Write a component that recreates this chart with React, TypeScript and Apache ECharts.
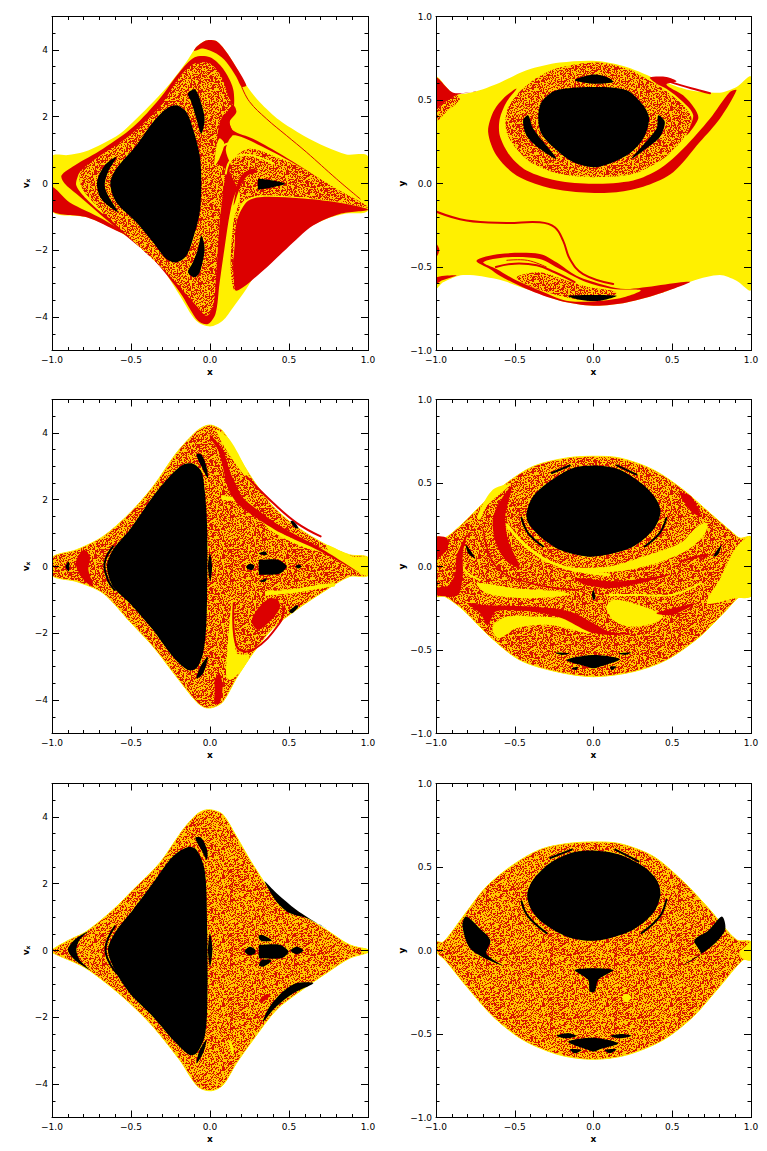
import React, { useEffect, useRef } from "react";
import * as echarts from "echarts";

type P = number[][];

const xTicks = [-1, -0.5, 0, 0.5, 1];
const vTicks = [-4, -2, 0, 2, 4];
const yTicks = [-1, -0.5, 0, 0.5, 1];

/* ---------- row 1, left ---------- */
const a1Env: P = [[-1,.81],[-.9,.85],[-.8,.94],[-.68,1.19],[-.57,1.49],[-.466,1.94],[-.36,2.44],[-.255,2.99],[-.15,3.64],[-.087,4.09],[-.034,4.27],[0,4.3],[.04,4.27],[.08,4.09],[.146,3.64],[.23,2.94],[.314,2.44],[.44,1.89],[.59,1.44],[.736,1.09],[.863,.87],[1,.81],[1,-.8],[.863,-.9],[.736,-1.06],[.59,-1.41],[.44,-1.96],[.31,-2.56],[.23,-3.16],[.146,-3.71],[.08,-4.11],[0,-4.28],[-.087,-4.11],[-.19,-3.36],[-.3,-2.56],[-.42,-1.96],[-.57,-1.46],[-.78,-1.01],[-1,-.82]];
const a1LowerLeft: P = [[-1,-.11],[-.89,-.56],[-.68,-1.06],[-.51,-1.56],[-.57,-1.46],[-.78,-1.01],[-1,-.82]];
const a1BigRed: P = [[.167,-1.16],[.23,-.56],[.314,-.41],[.567,-.44],[.8,-.56],[1,-.78],[.821,-.91],[.652,-1.26],[.483,-1.96],[.335,-2.61],[.167,-3.21],[.141,-2.76],[.156,-1.86]];
const a1Halo: P = [[-.94,.24],[-.857,.54],[-.677,1.04],[-.487,1.69],[-.319,2.54],[-.192,3.34],[-.097,3.78],[0,3.78],[.082,3.44],[.146,2.84],[.15,2.2],[.124,1.84],[.146,1.49],[.12,1.3],[.1,1],[.13,.6],[.19,.3],[.24,.1],[.17,-.2],[.13,-.8],[.09,-2],[.06,-3],[.035,-3.9],[-.013,-4.21],[-.076,-4.11],[-.19,-3.26],[-.36,-2.26],[-.508,-1.66],[-.698,-.91],[-.846,-.31],[-.92,0]];
const a1YellowLeft: P = [[-.835,.24],[-.846,-.06],[-.783,-.46],[-.677,-.91],[-.677,-.81],[-.793,-.26],[-.825,.09],[-.814,.39]];
const a1Crescent: P = [[-.087,4.09],[-.034,4.27],[0,4.3],[.04,4.27],[.08,4.09],[.146,3.64],[.23,2.94],[.2,2.9],[.167,3.19],[.103,3.64],[.04,3.89],[-.044,4.04],[-.1,3.97]];
const a1Speckle1: P = [[-.814,.39],[-.677,.89],[-.508,1.44],[-.319,2.29],[-.192,3.19],[-.097,3.59],[0,3.59],[.072,3.19],[.114,2.64],[.146,2.24],[.082,2.04],[.05,1.54],[.04,1.04],[.03,.64],[.093,.44],[.082,-.26],[.061,-1.16],[.04,-2.66],[.019,-3.71],[-.023,-3.96],[-.086,-3.66],[-.255,-2.76],[-.466,-1.81],[-.677,-.86],[-.793,-.26],[-.825,.09]];
const a1Neck: P = [[.146,2.34],[.167,2.14],[.124,1.84],[.146,1.59],[.272,1.34],[.462,.84],[.694,.14],[.905,-.56],[.589,.44],[.357,1.04],[.167,1.44],[.082,1.34],[.04,.94],[.061,1.54],[.082,1.94]];
const a1Speckle2: P = [[.124,.34],[.146,.74],[.25,1.04],[.4,.84],[.589,.44],[.8,-.16],[1,-.71],[.8,-.54],[.567,-.41],[.314,-.36],[.209,-.56],[.167,-1.16],[.146,-2.46],[.156,-3.21],[.14,-3],[.13,-2.4],[.15,-1.1],[.19,-.35],[.15,.1]];
const a1Arc: P = [[.177,.04],[.21,.3],[.27,.44],[.3,.36],[.24,.24],[.2,0],[.15,-.66]];
const a1YellowWedge: P = [[.04,1.1],[.06,1.35],[.09,1.2],[.06,.75],[.03,.55]];
const a1YellowLine1: P = [[.05,.8],[.09,1.15],[.18,1.2],[.3,1.05],[.45,.75]];
const a1YellowLine2: P = [[.1,.3],[.14,.75],[.25,.85],[.4,.6]];
const a1ThinRed: P = [[.2,2.9],[.25,2.45],[.357,1.94],[.483,1.44],[.61,.94],[.8,.14],[.95,-.46]];
const a1Main: P = [[-.631,0],[-.593,.44],[-.466,1.14],[-.36,1.84],[-.276,2.24],[-.213,2.34],[-.15,2.14],[-.108,1.64],[-.065,.84],[-.055,.04],[-.065,-.86],[-.108,-1.66],[-.15,-2.16],[-.213,-2.36],[-.276,-2.26],[-.36,-1.76],[-.466,-1.16],[-.593,-.56]];
const a1IslandUp: P = [[-.139,2.69],[-.097,2.82],[-.065,2.54],[-.034,1.94],[-.055,1.49],[-.086,1.94],[-.118,2.44]];
const a1IslandLow: P = [[-.139,-2.66],[-.097,-2.81],[-.065,-2.66],[-.034,-1.96],[-.055,-1.56],[-.076,-1.96],[-.108,-2.36]];
const a1IslandLeft: P = [[-.593,.79],[-.667,.54],[-.715,.04],[-.688,-.46],[-.582,-.86],[-.639,-.41],[-.667,-.06],[-.646,.34]];
const a1IslandRight: P = [[.304,.14],[.31,.14],[.399,.09],[.477,-.01],[.399,-.11],[.314,-.18],[.304,-.18]];

/* ---------- row 1, right ---------- */
const b1Env: P = [[-1,.634],[-.89,.54],[-.764,.548],[-.595,.604],[-.425,.678],[-.214,.724],[.019,.734],[.21,.698],[.421,.618],[.612,.558],[.802,.544],[.908,.578],[1,.638],[1,-.636],[.908,-.582],[.802,-.548],[.633,-.582],[.442,-.652],[.21,-.712],[0,-.732],[-.214,-.702],[-.425,-.632],[-.616,-.572],[-.828,-.548],[-.955,-.592],[-1,-.628]];
const b1TopLeftRed: P = [[-1,.634],[-.89,.544],[-.743,.552],[-.87,.528],[-1,.438]];
const b1TopLeftSpeck: P = [[-1,.438],[-.87,.528],[-.85,.5],[-.933,.43],[-1,.37]];
const b1Band: P = [[-.669,.308],[-.637,.428],[-.574,.508],[-.489,.568],[-.552,.488],[-.595,.388],[-.595,.288],[-.531,.168],[-.425,.078],[-.235,.018],[-.002,-.002],[.252,.018],[.421,.088],[.569,.208],[.739,.388],[.866,.548],[.908,.558],[.802,.388],[.675,.248],[.506,.068],[.337,-.012],[.146,-.052],[-.087,-.052],[-.298,-.022],[-.489,.048],[-.616,.168]];
const b1RightArc: P = [[.358,.634],[.463,.638],[.527,.612],[.463,.592],[.569,.528],[.643,.448],[.665,.388],[.59,.288],[.633,.408],[.569,.488],[.463,.568],[.4,.598]];
const b1Streak: P = [[.48,.61],[.62,.57],[.74,.54]];
const b1Ring: P = [[-.552,.308],[-.552,.428],[-.489,.528],[-.383,.618],[-.235,.688],[.019,.724],[.21,.688],[.315,.638],[.442,.568],[.569,.468],[.622,.388],[.569,.268],[.442,.148],[.252,.058],[-.002,.038],[-.214,.058],[-.383,.118],[-.489,.208]];
const b1Main: P = [[-.351,.388],[-.33,.488],[-.235,.558],[.019,.578],[.21,.558],[.315,.468],[.353,.388],[.315,.268],[.21,.168],[.019,.098],[-.129,.128],[-.256,.218],[-.33,.298]];
const b1IslandTop: P = [[-.119,.618],[-.002,.652],[.083,.638],[.125,.608],[-.002,.598]];
const b1IslandLeft: P = [[-.447,.378],[-.415,.408],[-.383,.328],[-.235,.148],[-.341,.208],[-.425,.288]];
const b1IslandRight: P = [[.453,.368],[.411,.408],[.4,.328],[.241,.148],[.347,.218],[.421,.278]];
const b1IslandLow: P = [[-.161,-.672],[.146,-.672],[.04,-.702],[-.087,-.696]];
const b1LongLine: P = [[-1,-.168],[-.806,-.222],[-.552,-.236],[-.341,-.232],[-.246,-.262],[-.193,-.342],[-.15,-.452],[-.066,-.542],[.125,-.602]];
const b1SwirlRed: P = [[-.743,-.462],[-.595,-.422],[-.341,-.422],[-.235,-.472],[-.108,-.552],[.083,-.612],[.21,-.632],[.612,-.588],[.442,-.652],[.21,-.712],[0,-.732],[-.214,-.702],[-.425,-.632],[-.595,-.552],[-.658,-.512]];
const b1SwirlYellow: P = [[-.7,-.472],[-.552,-.442],[-.341,-.452],[-.214,-.512],[-.044,-.592],[.125,-.632],[.3,-.64],[.15,-.69],[-.15,-.705],[-.341,-.64],[-.51,-.57],[-.616,-.512]];
const b1SwirlSpeck: P = [[-.489,-.562],[-.341,-.532],[-.171,-.582],[-.023,-.622],[.146,-.652],[.04,-.702],[-.171,-.682],[-.383,-.622]];
const b1SwirlLine: P = [[-.62,-.5],[-.5,-.48],[-.36,-.49],[-.25,-.53],[-.12,-.59]];
const b1SwirlLine2: P = [[-.55,-.46],[-.42,-.46],[-.3,-.5]];
const b1EdgeRed: P = [[-1,-.36],[-.98,-.39],[-.985,-.42],[-1,-.44]];
const b1EdgeLow: P = [[-1,-.562],[-.87,-.55],[-.96,-.58],[-1,-.6]];

/* ---------- row 2, left ---------- */
const a2Env: P = [[-1,.27],[-.846,.5],[-.677,.9],[-.508,1.6],[-.36,2.4],[-.213,3.4],[-.086,4.05],[-.023,4.22],[.019,4.22],[.082,4.05],[.167,3.4],[.272,2.6],[.399,1.8],[.546,1.2],[.736,.65],[.884,.35],[1,.27],[1,-.27],[.884,-.3],[.736,-.7],[.546,-1.3],[.399,-1.85],[.272,-2.6],[.167,-3.35],[.082,-4.05],[.019,-4.22],[-.034,-4.22],[-.086,-4.05],[-.213,-3.3],[-.36,-2.4],[-.508,-1.65],[-.677,-.8],[-.846,-.45],[-1,-.27]];
const a2YellowTop: P = [[.04,4.1],[.124,3.8],[.23,2.9],[.251,2.6],[.188,2.9],[.082,3.65]];
const a2YellowCurve: P = [[.082,2.05],[.23,1.9],[.4,1.1],[.59,.65],[.76,.4],[1,-.2]];
const a2YellowTip: P = [[.736,.65],[.905,.3],[1,.27],[1,-.27],[.905,-.1],[.76,.4]];
const a2RedBand: P = [[0,3.95],[.08,3.5],[.13,2.8],[.16,2.5],[.2,2.1],[.3,1.7],[.45,1.2],[.7,.55],[.95,-.2],[.7,.45],[.45,1],[.28,1.5],[.17,1.9],[.11,2.4],[.08,3],[.05,3.5],[0,3.85]];
const a2RedLine: P = [[.23,2.7],[.4,1.9],[.55,1.3],[.7,.9]];
const a2Main: P = [[-.652,0],[-.614,.5],[-.508,1.1],[-.36,2.1],[-.255,2.7],[-.171,3.05],[-.108,3.08],[-.055,2.85],[-.034,2.3],[-.019,1.3],[-.017,0],[-.023,-1.7],[-.044,-2.6],[-.086,-3.05],[-.139,-3.1],[-.234,-2.7],[-.36,-1.9],[-.508,-1.1],[-.614,-.6]];
const a2CrescentTop: P = [[-.086,3.35],[-.055,3.35],[-.023,3],[-.013,2.65],[-.044,2.9]];
const a2CrescentLow: P = [[-.086,-3.35],[-.044,-3.2],[-.013,-2.7],[-.055,-2.95]];
const a2CrescentLeft: P = [[-.614,.6],[-.667,.1],[-.646,-.4],[-.604,-.7]];
const a2Sliver: P = [[0,.4],[.013,0],[.002,-.45],[-.013,0]];
const a2FarLeft: P = [[-.894,.15],[-.914,0],[-.894,-.15],[-.89,0]];
const a2RightMain: P = [[.31,.2],[.32,.2],[.43,.2],[.483,.03],[.483,-.03],[.44,-.22],[.32,-.25],[.31,-.25]];
const a2Dot1: P = [[.23,0],[.255,.08],[.28,.02],[.27,-.1],[.24,-.08]];
const a2Dot2: P = [[.54,0],[.56,.06],[.58,0],[.56,-.06]];
const a2Dot3: P = [[.31,.4],[.35,.45],[.36,.35],[.33,.35]];
const a2Dot4: P = [[.31,-.45],[.36,-.35],[.35,-.45]];
const a2Dot5: P = [[.51,1.35],[.53,1.35],[.56,1.15],[.54,1.15]];
const a2Dot6: P = [[.5,-1.35],[.55,-1.15],[.56,-1.2],[.52,-1.4]];
const a2RedBlob: P = [[.272,-1.5],[.314,-1.2],[.378,-.95],[.43,-1],[.441,-1.25],[.378,-1.65],[.304,-1.9],[.266,-1.7]];
const a2YellowLow: P = [[.103,-3.3],[.11,-2.5],[.14,-1],[.155,-1.8],[.17,-2.6],[.25,-2.65],[.2,-3.1],[.13,-3.4]];
const a2YellowStripe: P = [[.36,-.8],[.5,-.75],[.7,-.6],[.78,-.55]];
const a2RedLeft: P = [[-.85,.1],[-.8,.5],[-.76,.3],[-.77,-.1],[-.74,-.6],[-.8,-.4]];
const a2RedColumn: P = [[.03,-3.4],[.06,-3.2],[.08,-3.6],[.06,-4.1],[.03,-4.1],[.03,-3.7]];
const a2RedArc: P = [[.15,-1.1],[.17,-2.4],[.27,-2.5],[.44,-1.7],[.47,-1.2]];

/* ---------- row 2, right ---------- */
const b2Env: P = [[-1,.175],[-.944,.17],[-.828,.26],[-.7,.38],[-.552,.5],[-.383,.6],[-.171,.65],[0,.66],[.167,.65],[.379,.58],[.569,.46],[.739,.32],[.887,.2],[.93,.17],[1,.175],[1,-.175],[.93,-.18],[.845,-.26],[.675,-.42],[.463,-.56],[.252,-.63],[0,-.66],[-.235,-.63],[-.468,-.56],[-.658,-.42],[-.828,-.26],[-.944,-.18],[-1,-.175]];
const b2YellowRight: P = [[1,.175],[1,-.175],[.9,-.19],[.72,-.22],[.8,-.08],[.91,.12]];
const b2YellowBlob: P = [[.083,-.24],[.125,-.2],[.252,-.22],[.4,-.27],[.442,-.3],[.379,-.34],[.23,-.36],[.125,-.32]];
const b2YellowCres: P = [[.66,.24],[.72,.26],[.71,.2],[.6,.1],[.4,.02],[.15,-.03],[-.1,-.03],[-.2,-.01],[.1,0],[.35,.07],[.55,.14]];
const b2YellowLow: P = [[-.635,-.35],[-.55,-.3],[-.38,-.3],[-.13,-.32],[-.02,-.4],[-.28,-.35],[-.49,-.37],[-.6,-.43],[-.64,-.39]];
const b2YellowMid: P = [[-.74,-.1],[-.5,-.13],[-.2,-.15],[-.15,-.17],[-.45,-.19],[-.68,-.16]];
const b2YellowUp: P = [[-.74,.3],[-.64,.46],[-.53,.49],[-.68,.36],[-.72,.28]];
const b2YellowLine: P = [[-.55,.25],[-.4,.1],[-.2,0],[.1,-.05]];
const b2YellowArc2: P = [[-.85,.12],[-.82,-.02],[-.72,-.08]];
const b2YellowArc3: P = [[.1,-.17],[.3,-.17],[.5,-.17],[.68,-.1]];
const b2RedArc1: P = [[-.7,.22],[-.62,0],[-.4,-.1],[-.1,-.14]];
const b2RedLeftBig: P = [[-.64,.28],[-.6,.38],[-.52,.48],[-.56,.3],[-.54,.15],[-.47,0],[-.55,.03],[-.62,.14]];
const b2RedLeft: P = [[-.95,-.17],[-.88,-.05],[-.87,.06],[-.8,.2],[-.83,.08],[-.83,-.05],[-.86,-.17]];
const b2RedEdgeUp: P = [[-1,.175],[-.93,.17],[-.93,.1],[-1,.05]];
const b2RedEdgeLow: P = [[-1,-.13],[-.87,-.12],[-.87,-.17],[-1,-.17]];
const b2RedBand: P = [[-.8,-.22],[-.7,-.23],[-.4,-.24],[-.15,-.27],[0,-.34],[.1,-.39],[.25,-.4],[.1,-.41],[-.03,-.39],[-.2,-.31],[-.4,-.27],[-.62,-.27],[-.67,-.35],[-.72,-.28]];
const b2RedUpRight: P = [[.55,.44],[.62,.42],[.68,.3],[.62,.33],[.58,.38]];
const b2RedMid: P = [[-.12,-.07],[.15,-.09],[.48,-.05],[.3,-.1],[.1,-.13],[-.05,-.11]];
const b2RedLine: P = [[.55,.03],[.72,.07],[.68,.04]];
const b2RedLowRight: P = [[.4,-.28],[.55,-.24],[.65,-.22],[.5,-.29]];
const b2Main: P = [[-.425,.32],[-.383,.42],[-.277,.51],[-.129,.59],[.019,.605],[.167,.58],[.315,.49],[.4,.4],[.425,.32],[.379,.22],[.252,.12],[.083,.07],[-.044,.06],[-.214,.1],[-.339,.18],[-.414,.26]];
const b2ArcLeft: P = [[-.457,.29],[-.415,.2],[-.32,.12]];
const b2ArcRight: P = [[.463,.29],[.42,.2],[.325,.12]];
const b2ArcTopL: P = [[-.265,.56],[-.15,.605]];
const b2ArcTopR: P = [[.148,.605],[.273,.55]];
const b2IsleLeft: P = [[-.81,.13],[-.751,.05],[-.796,.08]];
const b2IsleRight: P = [[.813,.13],[.76,.06],[.79,.07]];
const b2IsleMid: P = [[-.01,-.17],[0,-.14],[.012,-.19],[0,-.2]];
const b2LowMain: P = [[-.171,-.56],[0,-.53],[.167,-.555],[.04,-.6],[0,-.61],[-.04,-.6]];
const b2Low1: P = [[-.245,-.515],[-.15,-.52],[-.2,-.53]];
const b2Low2: P = [[.157,-.52],[.24,-.515],[.2,-.53]];
const b2Low3: P = [[-.14,-.61],[-.1,-.6],[-.11,-.62]];
const b2Low4: P = [[.105,-.6],[.145,-.6],[.115,-.62]];

/* ---------- row 3, left ---------- */
const a3Env: P = [[-1,.02],[-.89,.32],[-.783,.57],[-.614,1.22],[-.487,1.82],[-.319,2.62],[-.171,3.62],[-.086,4.07],[-.034,4.2],[.019,4.2],[.082,4.07],[.167,3.42],[.272,2.57],[.399,1.72],[.568,1.12],[.736,.62],[.884,.17],[1,.02],[1,-.06],[.884,-.23],[.736,-.68],[.568,-1.23],[.42,-1.78],[.272,-2.68],[.167,-3.38],[.082,-4.03],[.008,-4.2],[-.076,-4.08],[-.192,-3.28],[-.361,-2.28],[-.508,-1.58],[-.656,-.98],[-.804,-.48],[-1,-.06]];
const a3Main: P = [[-.646,.02],[-.603,.52],[-.487,1.22],[-.361,2.02],[-.234,2.82],[-.139,3.1],[-.086,3.02],[-.034,2.42],[-.019,.92],[-.017,-1.58],[-.034,-2.58],[-.086,-3.08],[-.129,-3.13],[-.213,-2.78],[-.361,-1.98],[-.508,-1.28],[-.603,-.58]];
const a3CresTop: P = [[-.093,3.37],[-.055,3.37],[-.019,3.02],[-.019,2.72],[-.055,3.02]];
const a3CresLow: P = [[-.086,-3.38],[-.044,-3.08],[-.023,-2.68],[-.065,-2.98]];
const a3CresLeft: P = [[-.603,.72],[-.66,.12],[-.635,-.38],[-.57,-.78]];
const a3IsleLeft: P = [[-.772,.57],[-.857,.32],[-.899,.02],[-.857,-.28],[-.762,-.58],[-.825,-.28],[-.846,.02],[-.825,.32]];
const a3Sliver: P = [[0,.52],[.015,.02],[0,-.48],[-.013,.02]];
const a3RightMain: P = [[.31,.17],[.32,.17],[.44,.17],[.494,0],[.494,-.08],[.451,-.23],[.32,-.23],[.31,-.23]];
const a3Dot1: P = [[.22,-.03],[.25,.11],[.285,.03],[.285,-.08],[.25,-.14]];
const a3Dot2: P = [[.51,0],[.55,.11],[.59,0],[.55,-.11]];
const a3Dot3: P = [[.31,.45],[.34,.45],[.39,.3],[.33,.28],[.31,.35]];
const a3Dot4: P = [[.31,-.45],[.34,-.48],[.39,-.3],[.33,-.28]];
const a3UpRight: P = [[.346,2.07],[.42,1.72],[.546,1.22],[.694,.77],[.736,.67],[.61,.97],[.504,1.12],[.42,1.47]];
const a3LowRight: P = [[.335,-2.13],[.42,-1.68],[.527,-1.28],[.654,-.98],[.546,-.98],[.462,-1.23],[.378,-1.68]];
const a3YellowSmall: P = [[.12,-2.7],[.14,-3.1],[.15,-3.1],[.14,-2.8]];
const a3RedSmall: P = [[.31,-1.5],[.36,-1.3],[.38,-1.35],[.33,-1.55]];
const a3YellowTip: P = [[.96,.08],[1,.04],[1,-.06],[.96,-.06]];

/* ---------- row 3, right ---------- */
const b3Env: P = [[-1,.052],[-.955,.05],[-.828,.204],[-.679,.384],[-.51,.514],[-.341,.604],[-.171,.64],[0,.65],[.167,.64],[.379,.564],[.569,.414],[.739,.244],[.908,.064],[1,.052],[1,-.056],[.95,-.056],[.802,-.216],[.633,-.396],[.442,-.536],[.21,-.626],[0,-.652],[-.214,-.626],[-.447,-.536],[-.637,-.396],[-.806,-.216],[-.944,-.056],[-1,-.006]];
const b3Main: P = [[-.421,.334],[-.383,.424],[-.275,.524],[-.127,.588],[.019,.598],[.167,.574],[.315,.504],[.4,.424],[.425,.334],[.379,.224],[.252,.124],[.104,.074],[-.023,.058],[-.171,.084],[-.32,.164],[-.394,.244]];
const b3ArcLeft: P = [[-.457,.294],[-.415,.204],[-.298,.104]];
const b3ArcRight: P = [[.463,.304],[.421,.204],[.305,.104]];
const b3ArcTopL: P = [[-.275,.554],[-.138,.604]];
const b3ArcTopR: P = [[.138,.604],[.286,.534]];
const b3IsleLeft: P = [[-.81,.204],[-.832,.144],[-.775,.004],[-.573,-.092],[-.68,-.02],[-.655,.06],[-.72,.13]];
const b3IsleRight: P = [[.815,.204],[.836,.124],[.749,.024],[.569,-.086],[.68,-.02],[.64,.06],[.73,.12]];
const b3Tee: P = [[-.119,-.116],[.125,-.116],[.03,-.176],[.008,-.246],[-.023,-.246],[-.034,-.176]];
const b3LowMain: P = [[-.161,-.546],[0,-.522],[.157,-.556],[.04,-.592],[0,-.606],[-.044,-.592]];
const b3Low1: P = [[-.235,-.51],[-.161,-.496],[-.108,-.512],[-.171,-.526]];
const b3Low2: P = [[.106,-.512],[.178,-.5],[.241,-.51],[.167,-.526]];
const b3Low3: P = [[-.15,-.592],[-.076,-.596],[-.119,-.616]];
const b3Low4: P = [[.072,-.596],[.146,-.592],[.104,-.616]];
const b3YellowDot: P = [[.18,-.28],[.21,-.26],[.24,-.28],[.21,-.31]];
const b3YellowTip: P = [[1,.05],[1,-.055],[.95,-.05],[.93,-.01],[.97,.03]];

/* speckle texture: a typed table of 32-bit words, one bit per pixel */
const tileWords = [0x428a2f98,0x71374491,0xb5c0fbcf,0xe9b5dba5,0x3956c25b,0x59f111f1,0x923f82a4,0xab1c5ed5,0xd807aa98,0x12835b01,0x243185be,0x550c7dc3,0x72be5d74,0x80deb1fe,0x9bdc06a7,0xc19bf174,0xe49b69c1,0xefbe4786,0x0fc19dc6,0x240ca1cc,0x2de92c6f,0x4a7484aa,0x5cb0a9dc,0x76f988da,0x983e5152,0xa831c66d,0xb00327c8,0xbf597fc7,0xc6e00bf3,0xd5a79147,0x06ca6351,0x14292967,0x27b70a85,0x2e1b2138,0x4d2c6dfc,0x53380d13,0x650a7354,0x766a0abb,0x81c2c92e,0x92722c85,0xa2bfe8a1,0xa81a664b,0xc24b8b70,0xc76c51a3,0xd192e819,0xd6990624,0xf40e3585,0x106aa070,0x19a4c116,0x1e376c08,0x2748774c,0x34b0bcb5,0x391c0cb3,0x4ed8aa4a,0x5b9cca4f,0x682e6ff3,0x748f82ee,0x78a5636f,0x84c87814,0x8cc70208,0x90befffa,0xa4506ceb,0xbef9a3f7,0xc67178f2];

const RED = "#dc0000";
const YELLOW = "#fff000";
const BLACK = "#000000";
const SPECK_RED = "#d81400";
const SPECK_YELLOW = "#ffc800";

function paintTile(light: boolean) {
  const n = tileWords.length;
  const size = 64;
  const cv = document.createElement("canvas");
  cv.width = size;
  cv.height = size;
  const ctx = cv.getContext("2d")!;
  ctx.fillStyle = SPECK_YELLOW;
  ctx.fillRect(0, 0, size, size);
  ctx.fillStyle = SPECK_RED;
  const bit = (w: number, i: number) => (w >>> (i % 32)) & 1;
  for (let y = 0; y < size; y++) {
    const a = tileWords[y], b = tileWords[(y + 23) % n], c = tileWords[(y + 41) % n], d = tileWords[(y + 7) % n], e = tileWords[(y + 52) % n];
    for (let x = 0; x < size; x++) {
      const u = x < 32 ? bit(a, x) : bit(b, x);
      const v = x < 32 ? bit(c, x) | bit(d, x + 5) | bit(e, x + 9) : bit(d, x) | bit(c, x + 11) | bit(e, x + 3);
      if (light ? u & v : u) ctx.fillRect(x, y, 1, 1);
    }
  }
  return { image: cv.toDataURL("image/png"), repeat: "repeat", imageWidth: size, imageHeight: size };
}

type Layer = { pts: P; fill?: string; line?: string; w?: number };
const f = (pts: P, fill: string): Layer => ({ pts, fill });
const l = (pts: P, line: string, w: number): Layer => ({ pts, line, w });

const panels = [
  { top: 16.5, left: 52, width: 316, yMin: -5, yMax: 5, yStep: 0.5, yMajor: vTicks, sub: true,
    layers: [f(a1Env,"Y"),f(a1LowerLeft,"R"),f(a1BigRed,"R"),f(a1Halo,"R"),f(a1YellowLeft,"Y"),f(a1Crescent,"R"),f(a1Speckle1,"S"),f(a1Neck,"R"),f(a1Speckle2,"S"),f(a1Arc,"R"),f(a1YellowWedge,"Y"),l(a1YellowLine1,"Y",2),l(a1YellowLine2,"Y",2),l(a1ThinRed,"R",1),f(a1Main,"B"),f(a1IslandUp,"B"),f(a1IslandLow,"B"),f(a1IslandLeft,"B"),f(a1IslandRight,"B")] },
  { top: 16.5, left: 436, width: 315, yMin: -1, yMax: 1, yStep: 0.1, yMajor: yTicks, sub: false,
    layers: [f(b1Env,"Y"),f(b1TopLeftRed,"R"),f(b1TopLeftSpeck,"S"),f(b1Band,"R"),f(b1RightArc,"R"),l(b1Streak,"R",2),f(b1Ring,"S"),f(b1Main,"B"),f(b1IslandTop,"B"),f(b1IslandLeft,"B"),f(b1IslandRight,"B"),f(b1SwirlRed,"R"),f(b1SwirlYellow,"Y"),f(b1SwirlSpeck,"S"),l(b1SwirlLine,"R",2),l(b1SwirlLine2,"R",1),f(b1IslandLow,"B"),l(b1LongLine,"R",2),f(b1EdgeRed,"R"),f(b1EdgeLow,"R")] },
  { top: 399.5, left: 52, width: 316, yMin: -5, yMax: 5, yStep: 0.5, yMajor: vTicks, sub: true,
    layers: [{pts:a2Env,fill:"S",line:"Y",w:1},f(a2YellowTop,"Y"),l(a2YellowCurve,"Y",4),f(a2YellowTip,"Y"),f(a2RedBand,"R"),l(a2RedLine,"R",2),f(a2RedBlob,"R"),f(a2YellowLow,"Y"),l(a2YellowStripe,"Y",4),f(a2RedLeft,"R"),f(a2RedColumn,"R"),l(a2RedArc,"R",2),f(a2Main,"B"),f(a2CrescentTop,"B"),f(a2CrescentLow,"B"),l(a2CrescentLeft,"B",2),f(a2Sliver,"B"),f(a2FarLeft,"B"),f(a2RightMain,"B"),f(a2Dot1,"B"),f(a2Dot2,"B"),f(a2Dot3,"B"),f(a2Dot4,"B"),f(a2Dot5,"B"),f(a2Dot6,"B")] },
  { top: 399.5, left: 436, width: 315, yMin: -1, yMax: 1, yStep: 0.1, yMajor: yTicks, sub: false,
    layers: [{pts:b2Env,fill:"S",line:"Y",w:1},f(b2YellowRight,"Y"),f(b2YellowBlob,"Y"),f(b2YellowCres,"Y"),f(b2YellowLow,"Y"),f(b2YellowMid,"Y"),f(b2YellowUp,"Y"),l(b2YellowLine,"Y",3),l(b2YellowArc2,"Y",2),l(b2YellowArc3,"Y",2),l(b2RedArc1,"R",1.5),f(b2RedLeftBig,"R"),f(b2RedLeft,"R"),f(b2RedEdgeUp,"R"),f(b2RedEdgeLow,"R"),f(b2RedBand,"R"),f(b2RedUpRight,"R"),f(b2RedMid,"R"),l(b2RedLine,"R",2),f(b2RedLowRight,"R"),f(b2Main,"B"),l(b2ArcLeft,"B",2),l(b2ArcRight,"B",2),l(b2ArcTopL,"B",2),l(b2ArcTopR,"B",2),f(b2IsleLeft,"B"),f(b2IsleRight,"B"),f(b2IsleMid,"B"),f(b2LowMain,"B"),f(b2Low1,"B"),f(b2Low2,"B"),f(b2Low3,"B"),f(b2Low4,"B")] },
  { top: 783.5, left: 52, width: 316, yMin: -5, yMax: 5, yStep: 0.5, yMajor: vTicks, sub: true,
    layers: [{pts:a3Env,fill:"T",line:"Y",w:1},f(a3YellowTip,"Y"),f(a3YellowSmall,"Y"),f(a3RedSmall,"R"),f(a3Main,"B"),f(a3CresTop,"B"),f(a3CresLow,"B"),l(a3CresLeft,"B",2),f(a3IsleLeft,"B"),f(a3Sliver,"B"),f(a3RightMain,"B"),f(a3Dot1,"B"),f(a3Dot2,"B"),f(a3Dot3,"B"),f(a3Dot4,"B"),f(a3UpRight,"B"),f(a3LowRight,"B")] },
  { top: 783.5, left: 436, width: 315, yMin: -1, yMax: 1, yStep: 0.1, yMajor: yTicks, sub: false,
    layers: [{pts:b3Env,fill:"T",line:"Y",w:1},f(b3YellowTip,"Y"),f(b3YellowDot,"Y"),f(b3Main,"B"),l(b3ArcLeft,"B",2),l(b3ArcRight,"B",2),l(b3ArcTopL,"B",2),l(b3ArcTopR,"B",2),f(b3IsleLeft,"B"),f(b3IsleRight,"B"),f(b3Tee,"B"),f(b3LowMain,"B"),f(b3Low1,"B"),f(b3Low2,"B"),f(b3Low3,"B"),f(b3Low4,"B")] },
];

const FONT = "DejaVu Sans";
const fmt = (digits: number) => (v: number) => {
  const s = Math.abs(v).toFixed(digits);
  return v < 0 ? "\u2212" + s : s;
};

function buildOption() {
  const colors: Record<string, any> = { Y: YELLOW, R: RED, B: BLACK, S: paintTile(false), T: paintTile(true) };

  const grid: any[] = [];
  const xAxis: any[] = [];
  const yAxis: any[] = [];
  const series: any[] = [];

  panels.forEach((p, gi) => {
    grid.push({ left: p.left, top: p.top, width: p.width, height: 334, containLabel: false });
    const xMajorIndex = xAxis.length;
    const yMajorIndex = yAxis.length;

    const common = {
      gridIndex: gi, z: 10, splitLine: { show: false }, minorSplitLine: { show: false },
      minorTick: { show: false },
    };
    const lineStyle = { color: "#000", width: 1 };

    (["bottom", "top"] as const).forEach((position) => {
      xAxis.push({
        ...common, type: "value", position, min: -1, max: 1, interval: 0.5,
        name: position === "bottom" ? "x" : undefined, nameLocation: "middle", nameGap: 17,
        nameTextStyle: { color: "#000", fontFamily: FONT, fontSize: 9, fontWeight: "bold" },
        axisLine: { show: true, onZero: false, lineStyle },
        axisTick: { show: true, inside: true, length: 7, lineStyle, customValues: xTicks },
        axisLabel: position === "bottom"
          ? { show: true, margin: 5, color: "#000", fontFamily: FONT, fontSize: 9, customValues: xTicks, formatter: fmt(1), hideOverlap: false, showMinLabel: true, showMaxLabel: true }
          : { show: false },
      });
      xAxis.push({
        ...common, type: "value", position, min: -1, max: 1, interval: 0.1,
        axisLine: { show: false, onZero: false },
        axisTick: { show: true, inside: true, length: 3.5, lineStyle },
        axisLabel: { show: false },
      });
    });
    (["left", "right"] as const).forEach((position) => {
      yAxis.push({
        ...common, type: "value", position, min: p.yMin, max: p.yMax, interval: p.sub ? 1 : 0.5,
        name: position === "left" ? (p.sub ? "{v|v}{s|x}" : "y") : undefined,
        nameLocation: "middle", nameGap: p.sub ? 22 : 30,
        nameTextStyle: {
          color: "#000", fontFamily: FONT, fontSize: 9, fontWeight: "bold",
          rich: { v: { fontFamily: FONT, fontSize: 9, fontWeight: "bold", color: "#000" },
                  s: { fontFamily: FONT, fontSize: 6, fontWeight: "bold", color: "#000", verticalAlign: "bottom", padding: [3, 0, 0, 0] } },
        },
        axisLine: { show: true, onZero: false, lineStyle },
        axisTick: { show: true, inside: true, length: 7, lineStyle, customValues: p.yMajor },
        axisLabel: position === "left"
          ? { show: true, margin: 4, color: "#000", fontFamily: FONT, fontSize: 9, customValues: p.yMajor, formatter: fmt(p.sub ? 0 : 1), hideOverlap: false, showMinLabel: true, showMaxLabel: true }
          : { show: false },
      });
      yAxis.push({
        ...common, type: "value", position, min: p.yMin, max: p.yMax, interval: p.yStep,
        axisLine: { show: false, onZero: false },
        axisTick: { show: true, inside: true, length: 3.5, lineStyle },
        axisLabel: { show: false },
      });
    });

    const layers = p.layers as Layer[];
    series.push({
      type: "custom",
      coordinateSystem: "cartesian2d",
      xAxisIndex: xMajorIndex,
      yAxisIndex: yMajorIndex,
      clip: true,
      silent: true,
      data: layers.map((_, i) => [0, 0, i]),
      renderItem: (params: any, api: any) => {
        const layer = layers[params.dataIndex];
        const points = layer.pts.map((pt) => api.coord(pt));
        if (layer.fill) {
          return {
            type: "polygon",
            shape: { points, smooth: 0.3 },
            style: {
              fill: colors[layer.fill],
              stroke: layer.line ? colors[layer.line] : undefined,
              lineWidth: layer.w || 0,
              lineJoin: "round",
            },
          };
        }
        return {
          type: "polyline",
          shape: { points, smooth: 0.4 },
          style: { fill: "none", stroke: colors[layer.line as string], lineWidth: layer.w, lineCap: "round" },
        };
      },
    });
  });

  return { animation: false, backgroundColor: "#fff", grid, xAxis, yAxis, series };
}

export default function App() {
  const ref = useRef<HTMLDivElement>(null);
  useEffect(() => {
    document.body.style.margin = "0";
    const chart = echarts.init(ref.current!, undefined, { renderer: "svg" });
    chart.setOption(buildOption());
    return () => chart.dispose();
  }, []);
  return <div ref={ref} style={{ width: 767, height: 1151 }} />;
}
